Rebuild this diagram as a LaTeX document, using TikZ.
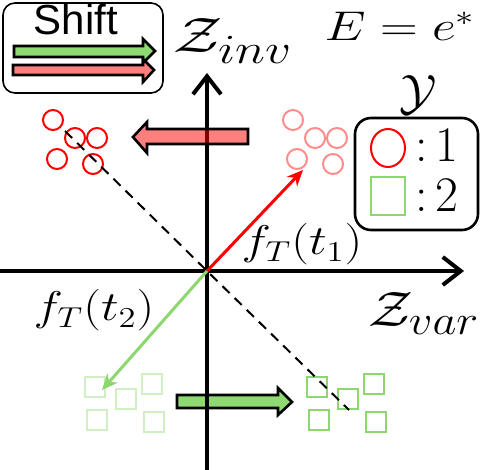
\documentclass[tikz,border=0pt]{standalone}
\usepackage{amsmath}
\usepackage{fontspec}
\newfontfamily\shiftfont{Liberation Sans}
\usetikzlibrary{arrows.meta}

\definecolor{circred}{RGB}{255,0,0}
\definecolor{sqgreen}{RGB}{140,215,110}
\definecolor{arrgreen}{RGB}{143,217,114}

\tikzset{
  axis/.style={line width=2pt, -{Straight Barb[length=9pt, width=14pt, line width=2pt]}},
  fatarrow/.style={draw=black, line width=1.3pt, line join=miter},
  lbl/.style={inner sep=0pt, font=\fontsize{21}{25}\selectfont, xscale=1.2},
  biglbl/.style={inner sep=0pt, font=\fontsize{30}{35}\selectfont, xscale=1.12},
  leglbl/.style={inner sep=0pt, font=\fontsize{28}{33}\selectfont},
  fvec/.style={line width=1.5pt, -{Stealth[length=8pt, width=7pt]}},
  pt/.style={line width=1pt}
}

\begin{document}
\begin{tikzpicture}[x=0.5pt, y=-0.5pt]
  \useasboundingbox (0,0) rectangle (482,470);

  % Shift legend
  \draw[line width=0.8pt, rounded corners=6pt] (3,3) rectangle (163,93);
  \node[inner sep=0pt, font=\shiftfont\fontsize{21}{25}\selectfont, anchor=base] (shift) at (76,35) {Shift};
  \draw[fatarrow, fill=arrgreen] (14,46) -- (143,46) -- (143,39) -- (155,51) -- (143,63) -- (143,57) -- (14,57) -- cycle;
  \draw[fatarrow, fill=circred, fill opacity=0.5] (13,65) -- (143,65) -- (143,59) -- (154,70) -- (143,82) -- (143,75) -- (13,75) -- cycle;

  % Green shift arrow (below axis)
  \draw[fatarrow, fill=arrgreen] (177,395) -- (278,395) -- (278,388) -- (292,402) -- (278,415) -- (278,408) -- (177,408) -- cycle;

  % Axes
  \coordinate (o) at (207,271);
  \coordinate (xl) at (0,271);
  \coordinate (xr) at (464,271);
  \coordinate (yb) at (207,470);
  \coordinate (yt) at (207,73);
  \draw[axis] (xl) -- (xr);
  \draw[axis] (yb) -- (yt);

  % Red shift arrow (over axis)
  \draw[fatarrow, fill=circred, fill opacity=0.5] (248,129) -- (147,129) -- (147,122) -- (133,137) -- (147,153) -- (147,144) -- (248,144) -- cycle;

  % Class 1 circles, before and after the shift
  \foreach \x/\y in {53/120, 75/138, 97/138, 57/159, 93/164} {
    \draw[pt, circred] (\x,\y) circle [radius=10];
    \draw[pt, circred, opacity=0.45] (\x+240,\y) circle [radius=10];
  }

  % Class 2 squares, before and after the shift
  \foreach \x/\y in {95/387, 126/399, 152/384, 97/420, 154/422} {
    \draw[pt, sqgreen, opacity=0.4] (\x-10,\y-10) rectangle ++(20,20);
    \draw[pt, sqgreen] (\x+212,\y-10) rectangle ++(20,20);
  }

  % Dashed boundary
  \coordinate (dl) at (65,131);
  \coordinate (dr) at (349,410);
  \draw[line width=1pt, dash pattern=on 5pt off 3.5pt] (dl) -- (o) -- (dr);

  % Task vectors
  \coordinate (t1) at (303,170);
  \coordinate (t2) at (102,390);
  \draw[fvec, circred] (o) -- (t1);
  \draw[fvec, sqgreen] (o) -- (t2);

  % Labels
  \node[biglbl, anchor=base, xscale=1.1] (zinv) at (233,53) {$\mathcal{Z}_{inv}$};
  \node[biglbl, anchor=base] (zvar) at (424,327) {$\mathcal{Z}_{var}$};
  \node[lbl, anchor=base, xscale=1.05] (env) at (400,41) {$E=e^*$};
  \node[lbl, anchor=base] (ft1) at (302,255) {$f_T(t_1)$};
  \node[lbl, anchor=base] (ft2) at (94,321) {$f_T(t_2)$};

  % Class legend
  \node[leglbl, anchor=base] (ylab) at (418,110) {$\mathcal{Y}$};
  \draw[line width=1.3pt, rounded corners=8pt] (355,118) rectangle (478,230);
  \draw[pt, circred] (388,148) ellipse [x radius=17, y radius=19];
  \draw[pt, sqgreen] (371,177) rectangle (405,215);
  \node[leglbl, anchor=base] (c1) at (437,162) {${:}\mkern3mu 1$};
  \node[leglbl, anchor=base] (c2) at (437,212) {${:}\mkern3mu 2$};
\end{tikzpicture}
\end{document}
